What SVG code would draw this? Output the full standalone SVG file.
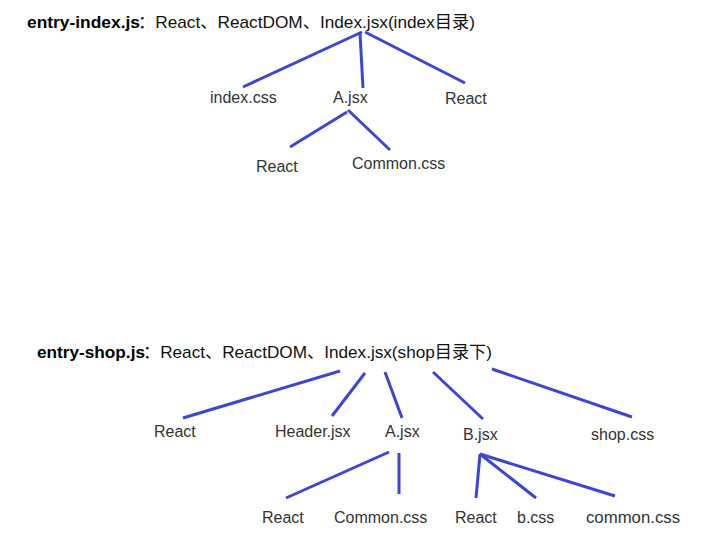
<svg xmlns="http://www.w3.org/2000/svg" width="712" height="546" viewBox="0 0 712 546">
<style>
text{font-family:"Liberation Sans","Noto Sans CJK SC",sans-serif;}
.t{font-size:16px;font-weight:bold;fill:#000;}
.r{font-size:17px;fill:#111;}
.l{font-size:16px;fill:#333;}
.c line{stroke:#3c46d4;stroke-width:3;stroke-linecap:butt;}
</style>
<rect width="712" height="546" fill="#fff"/>
<g id="connectors" class="c">
<line x1="362" y1="32" x2="243" y2="87"/>
<line x1="360" y1="33" x2="363" y2="88"/>
<line x1="365" y1="32" x2="465" y2="83"/>
<line x1="347" y1="112" x2="290" y2="147"/>
<line x1="348" y1="110" x2="390" y2="150"/>
<line x1="340" y1="371" x2="183" y2="418"/>
<line x1="365" y1="373" x2="332" y2="416"/>
<line x1="385" y1="372" x2="402" y2="418"/>
<line x1="433" y1="372" x2="483" y2="419"/>
<line x1="492" y1="369" x2="632" y2="417"/>
<line x1="389" y1="452" x2="286" y2="498"/>
<line x1="399" y1="453" x2="399" y2="494"/>
<line x1="480" y1="454" x2="476" y2="498"/>
<line x1="480" y1="454" x2="536" y2="498"/>
<line x1="480" y1="454" x2="615" y2="496"/>
</g>
<g id="entry-index">
<text class="t" x="27" y="28" textLength="113" lengthAdjust="spacingAndGlyphs">entry-index.js</text>
<text class="r" x="138" y="28" textLength="337" lengthAdjust="spacingAndGlyphs">：React、ReactDOM、Index.jsx(index目录)</text>
</g>
<g id="index-css"><text class="l" x="210" y="103">index.css</text></g>
<g id="a-jsx-1"><text class="l" x="333" y="103">A.jsx</text></g>
<g id="react-1"><text class="l" x="445" y="104">React</text></g>
<g id="react-2"><text class="l" x="256" y="172">React</text></g>
<g id="common-css-1"><text class="l" x="352" y="169">Common.css</text></g>
<g id="entry-shop">
<text class="t" x="37" y="358" textLength="108" lengthAdjust="spacingAndGlyphs">entry-shop.js</text>
<text class="r" x="143" y="358" textLength="349" lengthAdjust="spacingAndGlyphs">：React、ReactDOM、Index.jsx(shop目录下)</text>
</g>
<g id="react-3"><text class="l" x="154" y="437">React</text></g>
<g id="header-jsx"><text class="l" x="275" y="437">Header.jsx</text></g>
<g id="a-jsx-2"><text class="l" x="385" y="437">A.jsx</text></g>
<g id="b-jsx"><text class="l" x="463" y="440">B.jsx</text></g>
<g id="shop-css"><text class="l" x="591" y="440">shop.css</text></g>
<g id="react-4"><text class="l" x="262" y="523">React</text></g>
<g id="common-css-2"><text class="l" x="334" y="523">Common.css</text></g>
<g id="react-5"><text class="l" x="455" y="523">React</text></g>
<g id="b-css"><text class="l" x="517" y="523">b.css</text></g>
<g id="common-css-3"><text class="l" x="586" y="523" textLength="94" lengthAdjust="spacingAndGlyphs">common.css</text></g>
</svg>
